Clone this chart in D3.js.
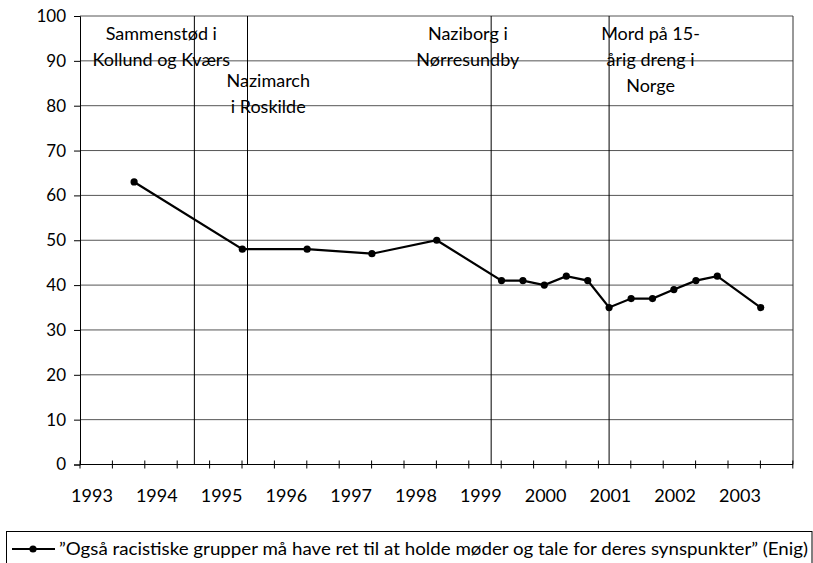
<!DOCTYPE html>
<html>
<head>
<meta charset="utf-8">
<script src="https://cdn.jsdelivr.net/npm/d3@7"></script>
<style>
  body { margin: 0; background: #fff; }
  svg text { font-family: Lato, "Open Sans", sans-serif; fill: #000; }
</style>
</head>
<body>
<div id="chart"></div>
<script>
// survey dates (decimal years) and share answering "Enig"
var dates = [1993.65, 1995.32, 1996.32, 1997.32, 1998.32, 1999.32, 1999.65, 1999.98,
             2000.32, 2000.65, 2000.98, 2001.32, 2001.65, 2001.98, 2002.32, 2002.65, 2003.32];
var values = [63, 48, 48, 47, 50, 41, 41, 40, 42, 41, 35, 37, 37, 39, 41, 42, 35];

var yearLabels = [1993, 1994, 1995, 1996, 1997, 1998, 1999, 2000, 2001, 2002, 2003];
var yTicks = [0, 10, 20, 30, 40, 50, 60, 70, 80, 90, 100];

// events marked with a vertical line
var eventDates = [1994.58, 1995.40, 1999.16, 2000.98];
var eventLabels = [
    ["Sammenstød i", "Kollund og Kværs"],
    ["Nazimarch", "i Roskilde"],
    ["Naziborg i", "Nørresundby"],
    ["Mord på 15-", "årig dreng i", "Norge"]
];
var eventLabelX = [1994.07, 1995.72, 1998.80, 2001.62];
var eventLabelY = [40, 87, 40, 40];

var seriesName = "\u201DOgså racistiske grupper må have ret til at holde møder og tale for deres synspunkter\u201D (Enig)";

var W = 813, H = 563;
var plotL = 80, plotR = 793, plotT = 16, plotB = 464.5;

var svg = d3.select('#chart').append('svg')
    .attr('width', W)
    .attr('height', H);

var x = d3.scaleLinear()
    .domain([1992.815, 2003.818])
    .range([plotL, plotR]);

var y = d3.scaleLinear()
    .domain([0, 100])
    .range([plotB, plotT]);

// horizontal grid
svg.append('g').selectAll('line')
    .data(yTicks.filter(function (d) { return d > 0; }))
    .enter().append('line')
    .attr('x1', plotL).attr('x2', plotR)
    .attr('y1', function (d) { return y(d); })
    .attr('y2', function (d) { return y(d); })
    .attr('stroke', '#555')
    .attr('stroke-width', 1);

// right border
svg.append('line')
    .attr('x1', plotR).attr('x2', plotR)
    .attr('y1', plotT).attr('y2', plotB)
    .attr('stroke', '#333');

// event lines
svg.append('g').selectAll('line')
    .data(eventDates)
    .enter().append('line')
    .attr('x1', function (d) { return x(d); })
    .attr('x2', function (d) { return x(d); })
    .attr('y1', plotT).attr('y2', plotB)
    .attr('stroke', '#000')
    .attr('stroke-width', 1);

// y axis
var yAxis = d3.axisLeft(y)
    .tickValues(yTicks)
    .tickSize(6)
    .tickPadding(8);

var gy = svg.append('g')
    .attr('transform', 'translate(' + plotL + ',0)')
    .call(yAxis);
gy.selectAll('text').style('font-size', '17px').attr('fill', '#000');
gy.selectAll('line').attr('stroke', '#000');
gy.select('.domain').attr('stroke', '#000');

// x axis: half-year ticks crossing the base line, year labels
var tickVals = d3.range(0, 23).map(function (i) { return x.domain()[0] + i * 0.5; });

var gx = svg.append('g');
gx.append('line')
    .attr('x1', plotL).attr('x2', plotR)
    .attr('y1', plotB).attr('y2', plotB)
    .attr('stroke', '#000');
gx.selectAll('line.tick')
    .data(tickVals)
    .enter().append('line')
    .attr('class', 'tick')
    .attr('x1', function (d) { return x(d); })
    .attr('x2', function (d) { return x(d); })
    .attr('y1', plotB - 4).attr('y2', plotB + 4)
    .attr('stroke', '#000');
gx.selectAll('text')
    .data(yearLabels)
    .enter().append('text')
    .attr('x', function (d) { return x(d); })
    .attr('y', 502)
    .attr('text-anchor', 'middle')
    .style('font-size', '18px')
    .text(function (d) { return d; });

// event labels
var ev = svg.append('g').selectAll('text')
    .data(eventLabels)
    .enter().append('text')
    .attr('text-anchor', 'middle')
    .style('font-size', '18px')
    .attr('x', function (d, i) { return x(eventLabelX[i]); })
    .attr('y', function (d, i) { return eventLabelY[i]; });
ev.selectAll('tspan')
    .data(function (d, i) { return d.map(function (t) { return { t: t, i: i }; }); })
    .enter().append('tspan')
    .attr('x', function (d) { return x(eventLabelX[d.i]); })
    .attr('dy', function (d, j) { return j === 0 ? 0 : 26; })
    .text(function (d) { return d.t; });

// series
var pts = dates.map(function (d, i) { return [d, values[i]]; });

var line = d3.line()
    .x(function (d) { return x(d[0]); })
    .y(function (d) { return y(d[1]); });

svg.append('path')
    .datum(pts)
    .attr('d', line)
    .attr('fill', 'none')
    .attr('stroke', '#000')
    .attr('stroke-width', 2.2);

svg.append('g').selectAll('circle')
    .data(pts)
    .enter().append('circle')
    .attr('cx', function (d) { return x(d[0]); })
    .attr('cy', function (d) { return y(d[1]); })
    .attr('r', 3.6)
    .attr('fill', '#000');

// legend
var lg = svg.append('g');
lg.append('rect')
    .attr('x', 6.5).attr('y', 531.5)
    .attr('width', 805.5).attr('height', 40)
    .attr('fill', 'none')
    .attr('stroke', '#000');
lg.append('line')
    .attr('x1', 12).attr('x2', 55)
    .attr('y1', 549).attr('y2', 549)
    .attr('stroke', '#000').attr('stroke-width', 2.2);
lg.append('circle')
    .attr('cx', 33).attr('cy', 549).attr('r', 3.6)
    .attr('fill', '#000');
lg.append('text')
    .attr('x', 59).attr('y', 555)
    .style('font-size', '18px')
    .attr('textLength', 749)
    .attr('lengthAdjust', 'spacingAndGlyphs')
    .text(seriesName);
</script>
</body>
</html>
